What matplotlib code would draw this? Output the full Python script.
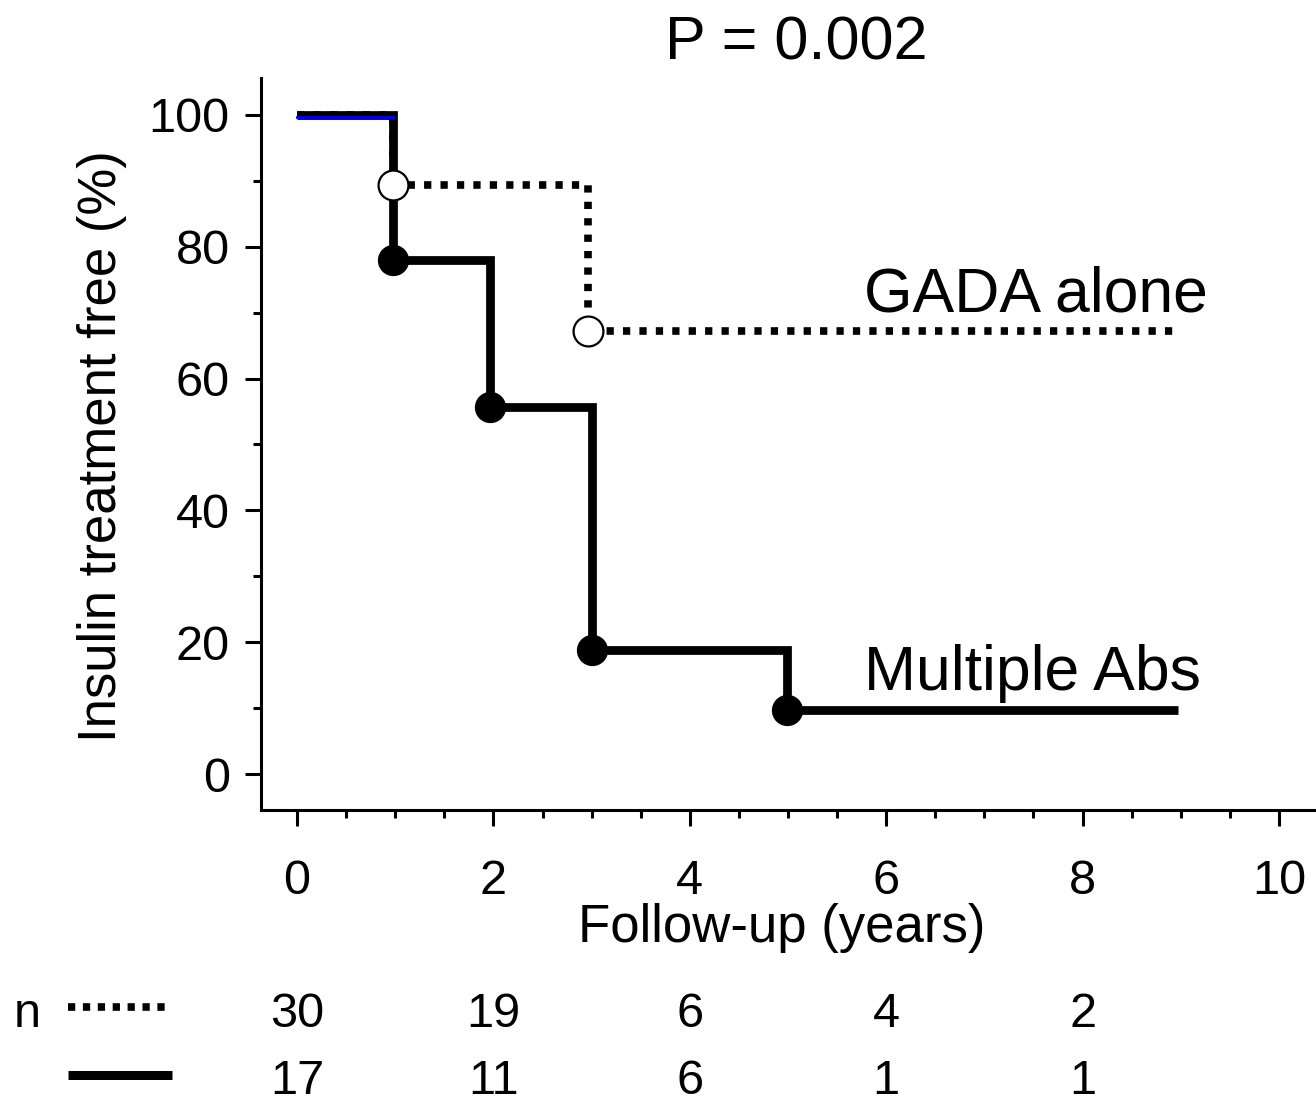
import matplotlib
matplotlib.use("Agg")
import matplotlib.pyplot as plt
from matplotlib.ticker import MultipleLocator
from matplotlib.lines import Line2D
from matplotlib.transforms import blended_transform_factory

plt.rcParams['font.family'] = ['Liberation Sans', 'DejaVu Sans']

# Kaplan-Meier steps
multi_t = [0, 0.98, 1.97, 3.0, 4.99, 8.97]
multi_s = [100, 78.0, 55.7, 18.8, 9.7, 9.7]
gada_t = [0, 0.98, 2.96, 8.97]
gada_s = [100, 89.3, 67.2, 67.2]

# numbers at risk
risk_t = [0, 2, 4, 6, 8]
gada_n = [30, 19, 6, 4, 2]
multi_n = [17, 11, 6, 1, 1]

W, H = 1316, 1105
fig = plt.figure(figsize=(W / 100, H / 100), dpi=100)
ax = fig.add_axes([261 / W, 1 - 810 / H, (W - 261) / W, (810 - 78) / H])

# GADA alone (dotted, open circles)
ax.step(gada_t, gada_s, where='post', color='black', lw=5.5,
        linestyle=(0, (0.95, 1.2)), dash_capstyle='butt', zorder=2)
# Multiple Abs (solid, filled circles)
ax.step(multi_t, multi_s, where='post', color='black', lw=6.3,
        solid_capstyle='butt', solid_joinstyle='miter', zorder=3)
ax.plot(gada_t[:2], [gada_s[0] - 0.3] * 2, color='blue', lw=2, zorder=4)
ax.plot(multi_t[1:5], multi_s[1:5], 'o', color='black', ms=21.5, zorder=5)
ax.plot(gada_t[1:3], gada_s[1:3], 'o', mfc='white', mec='black', ms=21.5,
        mew=1.6, zorder=6)

ax.set_xlim(-0.367, 10.377)
ax.set_ylim(-5.46, 105.6)
for s in ['top', 'right']:
    ax.spines[s].set_visible(False)
for s in ['left', 'bottom']:
    ax.spines[s].set_linewidth(2.2)

ax.xaxis.set_major_locator(MultipleLocator(2))
ax.xaxis.set_minor_locator(MultipleLocator(0.5))
ax.yaxis.set_major_locator(MultipleLocator(20))
ax.yaxis.set_minor_locator(MultipleLocator(10))
ax.tick_params(which='major', length=11.5, width=2.2, labelsize=35)
ax.tick_params(which='minor', length=5.5, width=2.2)
ax.tick_params(axis='x', which='major', pad=24)
ax.tick_params(axis='y', which='major', pad=11)

ax.set_xlabel('Follow-up (years)', fontsize=38)
ax.xaxis.set_label_coords(0.494, -0.127)
ax.set_ylabel('Insulin treatment free (%)', fontsize=38)
ax.yaxis.set_label_coords(-0.127, 0.497)

ax.text(5.77, 70.1, 'GADA alone', fontsize=45, va='baseline')
ax.text(5.77, 12.7, 'Multiple Abs', fontsize=45, va='baseline')
fig.text(796 / W, 1 - 60 / H, 'P = 0.002', fontsize=44, ha='center',
         va='baseline')

# numbers-at-risk table
fig.text(14 / W, 1 - 1027 / H, 'n', fontsize=35, va='baseline')
fig.add_artist(Line2D([68 / W, 172 / W], [1 - 1007 / H] * 2, color='black',
                      lw=5.5, linestyle=(0, (0.95, 1.0)),
                      dash_capstyle='butt'))
fig.add_artist(Line2D([68 / W, 172 / W], [1 - 1075 / H] * 2, color='black',
                      lw=6.5, solid_capstyle='butt'))
tr = blended_transform_factory(ax.transData, fig.transFigure)
for t, a, b in zip(risk_t, gada_n, multi_n):
    ax.text(t, 1 - 1027 / H, str(a), transform=tr, fontsize=35,
            ha='center', va='baseline')
    ax.text(t, 1 - 1104 / H, str(b), transform=tr, fontsize=35,
            ha='center', va='bottom')

fig.savefig('out.png', dpi=100)
